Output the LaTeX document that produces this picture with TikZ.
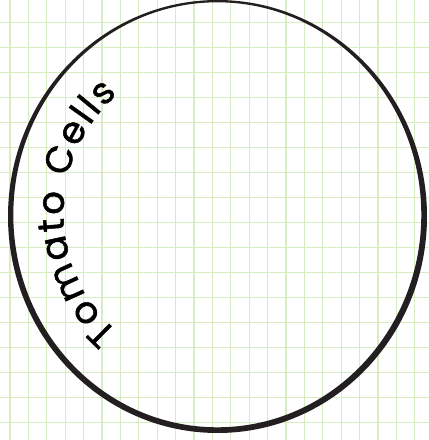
\documentclass[tikz,border=0pt]{standalone}
\usepackage{fontspec}
\usetikzlibrary{decorations.text}
\newfontfamily\handfont[FakeBold=1.3]{Poppins}
\definecolor{gridgreen}{RGB}{216,236,196}
\definecolor{inkblack}{RGB}{35,31,32}
\tikzset{
  gridline/.style={draw=gridgreen, line width=1.1pt},
  ring/.style={fill=inkblack, even odd rule},
}
\begin{document}
\begin{tikzpicture}[x=1pt,y=1pt]
  \useasboundingbox (0,0) rectangle (429,440);
  \fill[white] (0,0) rectangle (429,440);
  % grid paper
  \foreach \k in {0,...,22} {
    \draw[gridline] ({10+18.4*\k},0) -- ({10+18.4*\k},440);
  }
  \foreach \k in {0,...,16} {
    \draw[gridline] (0,{417.8-25*\k}) -- (429,{417.8-25*\k});
  }
  % hand-drawn cell outline
  \coordinate (outerc) at (217.5,223.5);
  \coordinate (innerc) at (217.3,225.2);
  \path[ring] (outerc) ellipse [x radius=209.5pt, y radius=216.5pt]
              (innerc) ellipse [x radius=204pt, y radius=212.5pt];
  % curved label
  \coordinate (textc) at (221,227);
  \path[decorate, decoration={text along path,
        text={|\handfont\fontsize{37}{44}\selectfont\color{black}|Tomato Cells},
        text align=fit to path}]
    ([shift={(textc)}]229:157.5pt) arc[start angle=229, end angle=131, radius=157.5pt];
\end{tikzpicture}
\end{document}
